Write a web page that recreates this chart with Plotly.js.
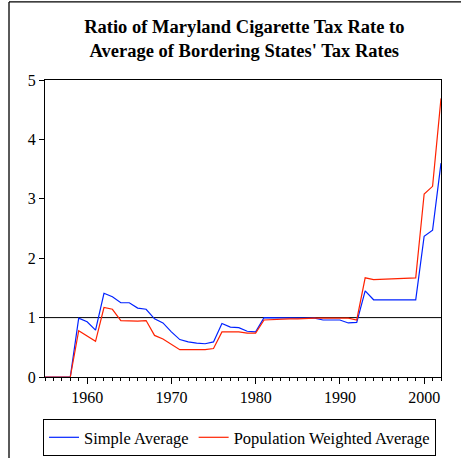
<!DOCTYPE html>
<html>
<head>
<meta charset="utf-8">
<script src="https://cdn.plot.ly/plotly-3.0.1.min.js"></script>
<style>
html,body{margin:0;padding:0;background:#fff;}
#chart{width:461px;height:458px;}
</style>
</head>
<body>
<div id="chart"></div>
<script>
var years = [];
for (var y = 1955; y <= 2002; y++) years.push(y);

var simpleAverage = [
  0, 0, 0, 0,
  0.99, 0.93, 0.79, 1.41, 1.35, 1.25, 1.25, 1.16, 1.14, 0.98, 0.91,
  0.76, 0.63, 0.59, 0.57, 0.56, 0.59, 0.90, 0.84, 0.83, 0.77,
  0.76, 1.00, 1.00, 1.00, 1.00, 1.00, 1.00, 0.99, 0.96, 0.96,
  0.96, 0.91, 0.92, 1.45, 1.30, 1.30, 1.30, 1.30, 1.30, 1.30,
  2.37, 2.47, 3.60
];

var weightedAverage = [
  0, 0, 0, 0,
  0.78, 0.69, 0.60, 1.17, 1.14, 0.95, 0.94, 0.94, 0.95, 0.70, 0.64,
  0.55, 0.46, 0.46, 0.46, 0.46, 0.48, 0.76, 0.76, 0.76, 0.74,
  0.74, 0.96, 0.97, 0.97, 0.98, 0.98, 0.99, 0.99, 0.99, 0.99,
  0.99, 0.99, 0.96, 1.67, 1.64, 1.645, 1.65, 1.655, 1.66, 1.67,
  3.08, 3.21, 4.69
];

var seriesNames = ["Simple Average", "Population Weighted Average"];
var yTicks = [0, 1, 2, 3, 4, 5];
var xTicks = [1960, 1970, 1980, 1990, 2000];

var serif = "Liberation Serif, Times New Roman, serif";

var traces = [
  {x: years, y: simpleAverage, name: seriesNames[0], type: "scatter", mode: "lines",
   line: {color: "#0022ff", width: 1.2}},
  {x: years, y: weightedAverage, name: seriesNames[1], type: "scatter", mode: "lines",
   line: {color: "#ff2200", width: 1.2}}
];

var layout = {
  width: 461, height: 458,
  margin: {l: 45, r: 20, t: 80, b: 81},
  paper_bgcolor: "#fff", plot_bgcolor: "#fff",
  font: {family: serif, color: "#000", size: 16},
  title: {
    text: "<b>Ratio of Maryland Cigarette Tax Rate to<br>Average of Bordering States' Tax Rates</b>",
    font: {family: serif, size: 18.5, color: "#000"},
    x: 0.53, xanchor: "center", xref: "container",
    y: 0.927, yanchor: "top", yref: "container"
  },
  xaxis: {
    range: [1955, 2002], tickvals: xTicks, ticktext: xTicks.map(String),
    showgrid: false, zeroline: false, showline: true, linecolor: "#000", linewidth: 1,
    mirror: true, ticks: "outside", ticklen: 6, tickcolor: "#000", automargin: false,
    tickfont: {family: serif, size: 16, color: "#000"},
    minor: {dtick: 1, tick0: 1955, ticks: "outside", ticklen: 3, tickcolor: "#000", showgrid: false}
  },
  yaxis: {
    range: [0, 5], tickvals: yTicks, ticktext: yTicks.map(String),
    showgrid: false, zeroline: false, showline: true, linecolor: "#000", linewidth: 1,
    mirror: true, ticks: "outside", ticklen: 5, tickcolor: "#000", automargin: false,
    tickfont: {family: serif, size: 16, color: "#000"}
  },
  showlegend: true,
  legend: {
    orientation: "h", xref: "container", yref: "container",
    x: 0.0933, xanchor: "left", y: 0.085, yanchor: "top",
    bordercolor: "#000", borderwidth: 1, bgcolor: "#fff",
    font: {family: serif, size: 16.5, color: "#000"}
  },
  shapes: [
    {type: "line", xref: "paper", yref: "y", x0: 0, x1: 1, y0: 1, y1: 1,
     line: {color: "#000", width: 1}, layer: "below"},
    {type: "line", xref: "paper", yref: "paper", x0: -0.0909, x1: -0.0909, y0: -0.4, y1: 1.263,
     line: {color: "#000", width: 1.3}},
    {type: "line", xref: "paper", yref: "paper", x0: -0.0909, x1: 1.2, y0: 1.263, y1: 1.263,
     line: {color: "#000", width: 1.3}}
  ]
};

Plotly.newPlot("chart", traces, layout, {displayModeBar: false, staticPlot: true});
</script>
</body>
</html>
